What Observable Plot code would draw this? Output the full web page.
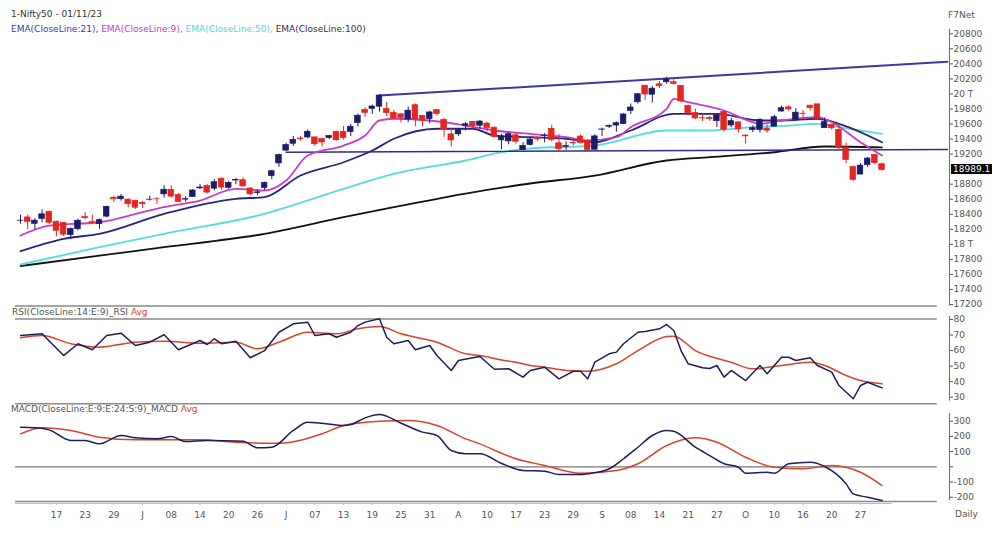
<!DOCTYPE html>
<html><head><meta charset="utf-8">
<script src="https://cdn.jsdelivr.net/npm/d3@7"></script>
<script src="https://cdn.jsdelivr.net/npm/@observablehq/plot@0.6"></script>
<style>
body{margin:0;background:#fff;}
#wrap{position:relative;width:1003px;height:542px;overflow:hidden;font-family:"DejaVu Sans",Verdana,sans-serif;background:#fff;}
#wrap svg{position:absolute;left:0;}
.lbl{position:absolute;font-size:9px;white-space:nowrap;color:#444;line-height:10px;}
</style></head><body><div id="wrap"></div>
<script>
// ---- data (trading-day index 0 = 10 May 2023 ... 120 = 01 Nov 2023) ----
const open = [18313,18358,18273,18339,18433,18300,18287,18124,18201,18362,
18295,18268,18369,18619,18600,18594,18580,18551,18593,18600,
18665,18725,18655,18595,18631,18744,18774,18741,18873,18752,
18849,18853,18742,18682,18748,18908,19076,19246,19338,19406,
19421,19422,19400,19414,19497,19496,19493,19612,19787,19802,
19831,19800,19749,19729,19660,19850,19708,19666,19784,19655,
19463,19463,19576,19627,19578,19606,19552,19383,19369,19450,
19253,19320,19417,19439,19535,19343,19298,19347,19433,19375,
19258,19525,19564,19580,19599,19775,19890,20110,19990,20128,
20156,20156,20108,19840,19745,19678,19682,19638,19761,19581,
19622,19446,19521,19521,19539,19565,19767,19822,19654,19737,
19844,19862,19545,19590,19521,19286,19027,18928,19053,19190,
19065];
const high = [18390,18389,18342,18458,18440,18310,18288,18218,18335,18420,
18392,18338,18508,18640,18662,18603,18580,18573,18640,18622,
18778,18778,18676,18633,18728,18795,18794,18864,18881,18839,
18875,18887,18756,18722,18829,18984,19201,19345,19435,19434,
19523,19426,19400,19450,19505,19567,19595,19731,19819,19852,
19992,19887,19782,19729,19825,19867,19716,19772,19795,19678,
19538,19538,19621,19634,19646,19624,19557,19465,19483,19479,
19355,19417,19433,19472,19584,19458,19366,19377,19452,19388,
19458,19545,19588,19629,19738,19867,20009,20110,20100,20167,
20222,20196,20108,19848,19798,19735,19699,19731,19766,19676,
19624,19457,19576,19675,19588,19717,19839,19843,19805,19781,
19849,19862,19681,19593,19593,19347,19041,19076,19158,19190,
19083];
const low = [18270,18194,18194,18287,18264,18102,18104,18060,18180,18324,
18262,18202,18352,18556,18575,18483,18464,18478,18575,18531,
18615,18616,18555,18559,18631,18727,18669,18711,18719,18732,
18794,18759,18647,18646,18714,18861,19024,19235,19301,19373,
19403,19303,19296,19393,19374,19385,19433,19562,19690,19727,
19758,19700,19658,19615,19617,19563,19564,19604,19704,19424,
19296,19436,19509,19533,19530,19495,19413,19257,19323,19333,
19253,19310,19366,19350,19362,19229,19249,19309,19334,19223,
19255,19433,19541,19492,19592,19726,19865,19914,19880,20071,
20129,20115,19879,19709,19658,19635,19636,19554,19492,19551,
19479,19333,19487,19480,19480,19565,19756,19772,19635,19670,
19775,19660,19545,19518,19257,19074,18838,18926,19020,19056,
18973];
const close = [18315,18297,18315,18399,18287,18181,18129,18203,18314,18348,
18285,18321,18499,18599,18634,18534,18487,18534,18594,18599,
18726,18635,18563,18601,18716,18756,18688,18826,18755,18817,
18856,18771,18665,18691,18817,18972,19189,19322,19389,19398,
19497,19331,19355,19439,19384,19413,19564,19711,19749,19833,
19979,19745,19672,19680,19778,19659,19646,19754,19733,19527,
19382,19517,19597,19571,19633,19543,19428,19434,19465,19365,
19310,19394,19396,19444,19386,19265,19307,19342,19347,19254,
19435,19528,19575,19611,19727,19820,19996,19993,20070,20103,
20192,20133,19901,19742,19674,19675,19665,19716,19524,19638,
19529,19436,19545,19654,19512,19690,19811,19794,19751,19732,
19812,19672,19625,19543,19282,19122,18857,19047,19141,19080,
18989.1];

// moving averages: [day index, value]
const ema100 = [[0,17712],[11,17851],[20,17962],[34,18140],[45,18361],[52,18494],[62,18676],[71,18809],[80,18915],[90,19115],[96,19159],[105,19225],[112,19301],[120,19290]];
const ema50 = [[0,17732],[11,17962],[20,18140],[34,18406],[45,18739],[52,18938],[62,19115],[67,19225],[71,19275],[80,19314],[90,19514],[96,19514],[102,19558],[107,19580],[111,19603],[114,19558],[120,19470]];
const ema21 = [[0,17909],[6,18074],[11,18140],[20,18406],[30,18606],[34,18628],[39,18915],[45,19092],[49,19248],[52,19404],[58,19537],[63,19537],[66,19447],[71,19425],[76,19404],[80,19358],[85,19514],[91,19736],[97,19736],[103,19647],[106,19647],[111,19670],[114,19603],[120,19358]];
const ema9 = [[0,18117],[4,18250],[11,18294],[17,18427],[20,18494],[25,18583],[30,18738],[34,18716],[37,18849],[40,19181],[45,19314],[48,19447],[50,19647],[52,19670],[57,19647],[62,19580],[66,19514],[71,19470],[76,19425],[79,19381],[83,19425],[85,19558],[90,19802],[91,19935],[93,19890],[98,19780],[102,19624],[103,19603],[106,19647],[111,19691],[113,19624],[117,19358],[120,19181]];
const trendUpper = [[50,19979],[129.1,20427]];
const trendLower = [[37,19225],[129.1,19262]];

const rsi = [[0,69.7],[3,70.8],[6,56.8],[8,64.4],[10,60.5],[12,69.7],[14,71.2],[16,63.3],[18,65.4],[20,70.2],[22,60.5],[25,66.5],[26,63.9],[27,67.6],[28,64.4],[30,66],[32,55.4],[34,60],[36,71.8],[38,77.2],[40,78.3],[41,69.7],[43,70.8],[44,68.6],[46,71.8],[47,76.1],[48,78.3],[50,80.5],[51,68.6],[52,64.4],[54,66.5],[55,60.5],[57,63.3],[58,56.8],[60,47.2],[61,53.6],[63,55.4],[64,56.2],[66,48],[68,48.3],[70,42.9],[71,47.2],[73,49.3],[75,41.8],[77,46.7],[78,46.7],[79,41.8],[80,52.5],[82,57.9],[83,59],[84,64.4],[86,71.8],[87,72.3],[89,74],[90,76.8],[91,72.9],[92,60],[93,51.5],[95,48.9],[96,48.5],[97,50.4],[98,42.9],[99,47.2],[101,40.7],[103,50.4],[104,45.1],[106,55.7],[107,55.7],[108,53.6],[110,55.4],[111,50.4],[113,46.1],[114,37.5],[116,29],[117,37.5],[118,39.6],[120,36]];
const rsiAvg = [[0,68.2],[3,69.7],[7,64.4],[11,62.2],[16,65.4],[20,66],[25,64.7],[30,65.4],[33,61.1],[36,65.4],[40,71.8],[44,70.8],[47,74],[50,75.5],[53,70.8],[58,65.4],[62,57.9],[64,56.8],[67,54],[69,52.5],[71,50.4],[73,49.3],[76,47.2],[79,46.7],[83,51.5],[86,60],[90,69],[91,69.3],[94,60],[99,52.5],[102,48.3],[106,50.4],[110,52.5],[112,50.4],[115,44],[117,40.7],[120,38.6]];

const macd = [[0,260],[2,257],[4,243],[7,173],[9,173],[11,151],[14,206],[16,191],[19,184],[21,199],[23,166],[26,173],[31,168],[33,125],[35,129],[38,239],[40,293],[42,287],[45,272],[46,278],[48,322],[50,344],[53,287],[56,228],[58,206],[60,107],[62,86],[64,86],[67,22],[70,-24],[73,-29],[75,-51],[78,-51],[79,-46],[82,-13],[84,53],[86,129],[88,206],[90,239],[91,234],[94,129],[96,74],[98,20],[100,-3],[101,-42],[104,-36],[105,-42],[107,20],[110,30],[112,2],[115,-112],[116,-178],[118,-200],[120,-222]];
const macdAvg = [[0,217],[3,257],[7,239],[11,195],[16,178],[25,178],[30,162],[36,155],[42,217],[45,272],[50,300],[54,305],[58,272],[62,184],[64,151],[67,89],[69,53],[73,9],[78,-42],[83,-24],[86,20],[90,140],[94,191],[97,162],[101,63],[105,-3],[109,-13],[113,9],[117,-36],[120,-123]];

const xTickIdx = [5,9,13,17,21,25,29,33,37,41,45,49,53,57,61,65,69,73,77,81,85,89,93,97,101,105,109,113,117];
const xTickLabels = ["17","23","29","J","08","14","20","26","J","07","13","19","25","31","A","10","17","23","29","S","08","14","21","27","O","10","16","20","27"];
const priceTicks = [20800,20600,20400,20200,20000,19800,19600,19400,19200,18800,18600,18400,18200,18000,17800,17600,17400,17200];
const priceTickLabels = ["20800","20600","20400","20200","20 T","19800","19600","19400","19200","18800","18600","18400","18200","18 T","17800","17600","17400","17200"];
const rsiTicks = [80,70,60,50,40,30];
const macdTicks = [300,200,100,0,-100,-200];
const macdTickLabels = ["300","200","100","","-100","-200"];

// ---- layout ----
const W = 1003, ML = 15, MR = 54;
const xDomain = [-0.7, 129.4];
const xEnd = xDomain[1], lineEnd = 127.7;
const UP = "#1c1c6a", DN = "#e52620";
const GRID = "#8a8a8a", AX = "#6a6a6a", TXT = "#555";
const FONT = "DejaVu Sans, Verdana, sans-serif";
const wrap = document.getElementById("wrap");

const candles = close.map((c, i) => ({i, o: open[i], h: high[i], l: low[i], c, col: c >= open[i] ? UP : DN}));
const pt = a => a.map(([i, v]) => ({i, v}));
const priceLabelMap = new Map(priceTicks.map((t, k) => [t, priceTickLabels[k]]));
const macdLabelMap = new Map(macdTicks.map((t, k) => [t, macdTickLabels[k]]));
const xLabelMap = new Map(xTickIdx.map((t, k) => [t, xTickLabels[k]]));

function place(svg, top) { svg.style.top = top + "px"; svg.style.background = "transparent"; wrap.appendChild(svg); return svg; }

// price pane
const price = Plot.plot({
  width: W, height: 310, marginLeft: ML, marginRight: MR, marginTop: 33.3, marginBottom: 6,
  style: {background: "transparent", fontFamily: FONT},
  x: {domain: xDomain, axis: null},
  y: {domain: [17200, 20800], axis: null},
  marks: [
    Plot.ruleY([17180], {x1: xDomain[0], x2: lineEnd, stroke: GRID, strokeWidth: 1.5}),
    Plot.ruleX([xEnd], {y1: 17180, y2: 20860, stroke: AX}),
    Plot.axisY(priceTicks, {anchor: "right", label: null, tickSize: 3, tickPadding: 1, fontSize: 9, color: TXT, tickFormat: d => priceLabelMap.get(d)}),
    Plot.line(pt(ema100), {x: "i", y: "v", stroke: "#111", strokeWidth: 1.8, curve: "monotone-x"}),
    Plot.line(pt(ema50), {x: "i", y: "v", stroke: "#55dcdc", strokeWidth: 1.8, curve: "monotone-x"}),
    Plot.line(pt(trendLower), {x: "i", y: "v", stroke: "#2d2d92", strokeWidth: 1.6}),
    Plot.line(pt(trendUpper), {x: "i", y: "v", stroke: "#3a3aa4", strokeWidth: 2}),
    Plot.line(pt(ema21), {x: "i", y: "v", stroke: "#262680", strokeWidth: 1.8, curve: "monotone-x"}),
    Plot.line(pt(ema9), {x: "i", y: "v", stroke: "#c83cc8", strokeWidth: 1.8, curve: "monotone-x"}),
    Plot.ruleX(candles, {x: "i", y1: "l", y2: "h", stroke: "col", strokeWidth: 1}),
    Plot.rect(candles, {x1: d => d.i - 0.39, x2: d => d.i + 0.39, y1: "o", y2: "c", fill: "col", stroke: "col", strokeWidth: 0.7})
  ]
});
place(price, 0);

// RSI pane
const rsiPlot = Plot.plot({
  width: W, height: 110, marginLeft: ML, marginRight: MR, marginTop: 19, marginBottom: 7.1,
  style: {background: "transparent", fontFamily: FONT},
  x: {domain: xDomain, axis: null},
  y: {domain: [26, 80], axis: null},
  marks: [
    Plot.ruleY([80.4, 25.8], {x1: xDomain[0], x2: lineEnd, stroke: GRID, strokeWidth: 1.5}),
    Plot.ruleX([xEnd], {y1: 27.5, y2: 82, stroke: AX}),
    Plot.axisY(rsiTicks, {anchor: "right", label: null, tickSize: 3, tickPadding: 1, fontSize: 9, color: TXT}),
    Plot.line(pt(rsiAvg), {x: "i", y: "v", stroke: "#d8432c", strokeWidth: 1.5, curve: "monotone-x"}),
    Plot.line(pt(rsi), {x: "i", y: "v", stroke: "#1e1e5c", strokeWidth: 1.5})
  ]
});
place(rsiPlot, 300);

// MACD pane
const macdPlot = Plot.plot({
  width: W, height: 137, marginLeft: ML, marginRight: MR, marginTop: 8.1, marginBottom: 41,
  style: {background: "transparent", fontFamily: FONT},
  x: {domain: xDomain, axis: null},
  y: {domain: [-228, 350], axis: null},
  marks: [
    Plot.ruleY([0], {x1: xDomain[0], x2: lineEnd, stroke: "#777", strokeWidth: 1.2}),
    Plot.ruleY([-228], {x1: xDomain[0], x2: lineEnd, stroke: GRID, strokeWidth: 1.5}),
    Plot.ruleY([-241], {x1: xDomain[0], x2: 121.4, stroke: "#bbb", strokeWidth: 1}),
    Plot.ruleX(xTickIdx, {y1: -241, y2: -254, stroke: "#bbb"}),
    Plot.ruleX([xEnd], {y1: -222, y2: 350, stroke: AX}),
    Plot.axisY(macdTicks, {anchor: "right", label: null, tickSize: 3, tickPadding: 1, fontSize: 9, color: TXT, tickFormat: d => macdLabelMap.get(d)}),
    Plot.axisX(xTickIdx, {anchor: "bottom", label: null, tickSize: 0, tickPadding: 10, fontSize: 9, color: TXT, tickFormat: d => xLabelMap.get(d)}),
    Plot.line(pt(macdAvg), {x: "i", y: "v", stroke: "#d8432c", strokeWidth: 1.5, curve: "monotone-x"}),
    Plot.line(pt(macd), {x: "i", y: "v", stroke: "#1e1e5c", strokeWidth: 1.5, curve: "monotone-x"})
  ]
});
place(macdPlot, 405);

// ---- texts ----
function label(html, left, top, extra) {
  const d = document.createElement("div");
  d.className = "lbl"; d.innerHTML = html;
  d.style.left = left + "px"; d.style.top = top + "px";
  if (extra) Object.assign(d.style, extra);
  wrap.appendChild(d); return d;
}
label("1-Nifty50 - 01/11/23", 11, 9, {color: "#333"});
label('<span style="color:#3a3aa8">EMA(CloseLine:21),</span> <span style="color:#c040c0">EMA(CloseLine:9),</span> <span style="color:#4fd8d8">EMA(CloseLine:50),</span> <span style="color:#333">EMA(CloseLine:100)</span>', 11, 24);
label("F7Net", 948, 10, {color: "#555"});
label('<span style="color:#555">RSI(CloseLine:14:E:9)_RSI</span> <span style="color:#d8432c">Avg</span>', 12, 307);
label('<span style="color:#555">MACD(CloseLine:E:9:E:24:S:9)_MACD</span> <span style="color:#d8432c">Avg</span>', 11, 404);
label("Daily", 955, 509, {color: "#555"});

// last price box
const last = close[close.length - 1];
const yLast = price.scale("y").apply(last);
label(last.toFixed(1), 951, yLast - 5, {background: "#000", color: "#fff", padding: "0 2px", lineHeight: "10px"});
</script></body></html>
